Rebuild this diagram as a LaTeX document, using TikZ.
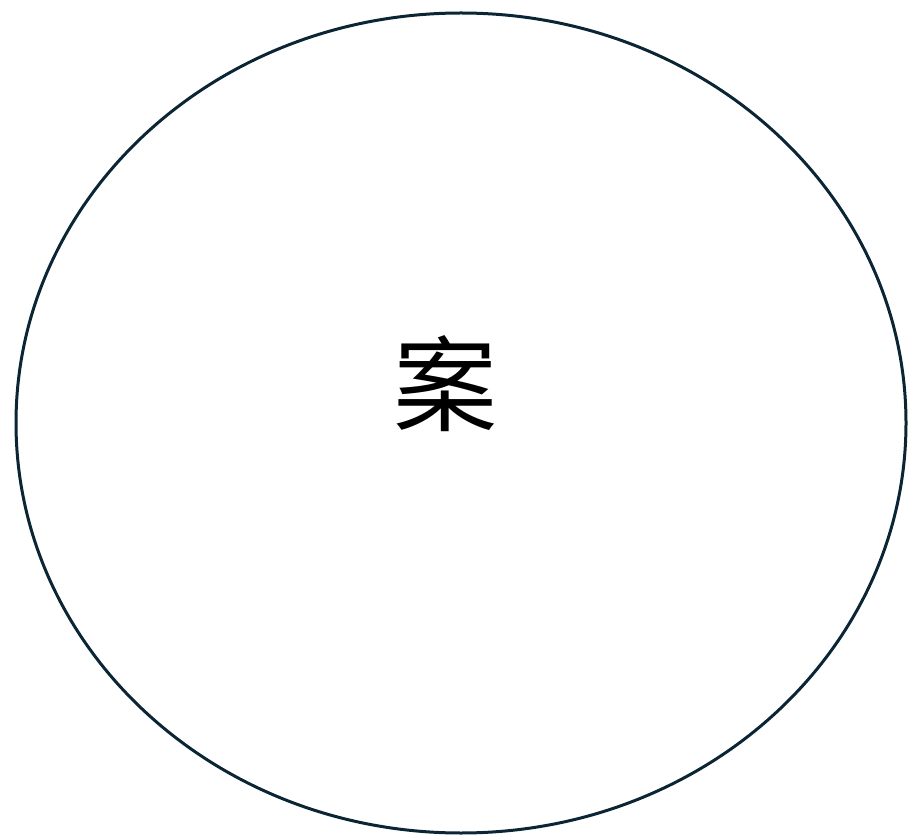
\documentclass[tikz,border=0pt]{standalone}
\usepackage{fontspec}
\newfontfamily\cjk{Noto Sans CJK SC}
\definecolor{edge}{HTML}{0B2535}
\begin{document}
\begin{tikzpicture}[x=1pt,y=1pt]
\useasboundingbox (0,0) rectangle (909,836);
\draw[edge, line width=3pt] (461,413) ellipse [x radius=445, y radius=410];
\node[inner sep=0pt, font=\cjk\fontsize{104}{110}\selectfont] (t) at (445,452) {案};
\end{tikzpicture}
\end{document}
